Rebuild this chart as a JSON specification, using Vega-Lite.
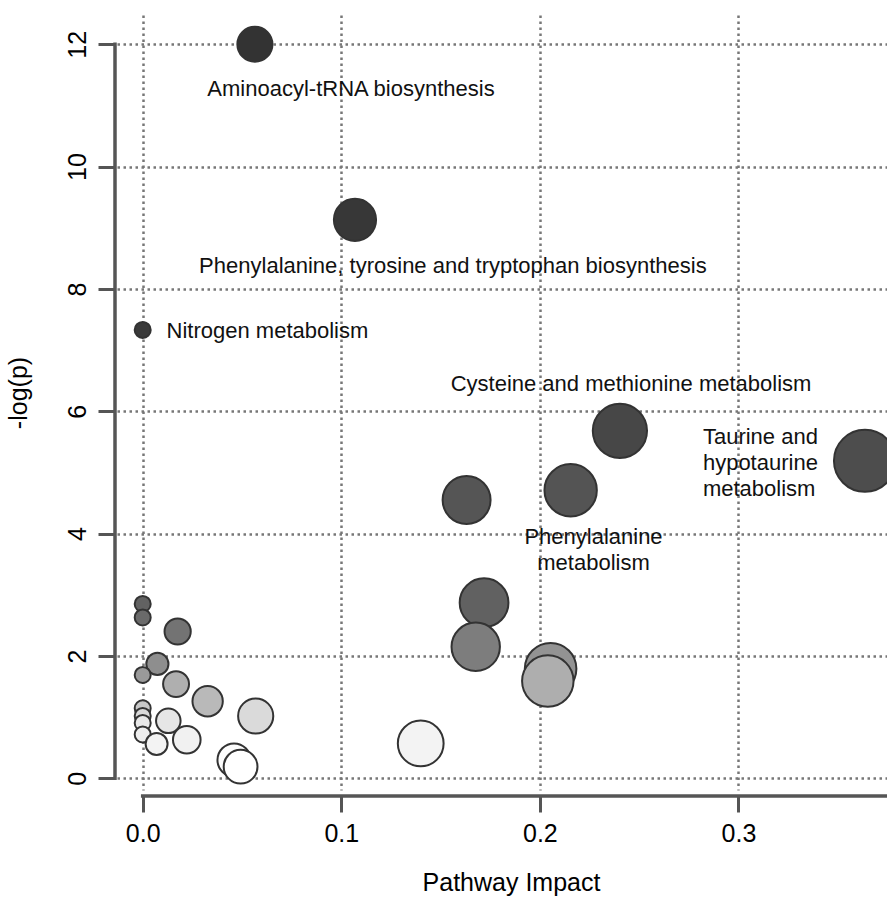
{
  "$schema": "https://vega.github.io/schema/vega-lite/v6.json",
  "width": 770,
  "height": 775,
  "autosize": {"type": "none"},
  "padding": {"left": 117, "top": 15, "right": 0, "bottom": 115},
  "background": "white",
  "config": {
    "view": {"stroke": null},
    "font": "Liberation Sans",
    "axis": {
      "domain": false,
      "tickColor": "#555555",
      "tickWidth": 3,
      "labelFont": "Liberation Sans",
      "labelFontSize": 25,
      "labelColor": "#000000",
      "labelFlush": false,
      "labelOverlap": false,
      "titleFont": "Liberation Sans",
      "titleFontSize": 25,
      "titleFontWeight": "normal",
      "titleColor": "#000000",
      "grid": true,
      "gridColor": "#777777",
      "gridDash": [2.5, 3.5],
      "gridWidth": 2.5
    }
  },
  "layer": [
    {
      "data": {
        "values": [
          {"pathway": "Aminoacyl-tRNA biosynthesis", "impact": 0.0565, "logp": 12.0},
          {"pathway": "Phenylalanine, tyrosine and tryptophan biosynthesis", "impact": 0.1069, "logp": 9.13},
          {"pathway": "Nitrogen metabolism", "impact": 0.0, "logp": 7.33},
          {"pathway": "Cysteine and methionine metabolism", "impact": 0.2403, "logp": 5.68},
          {"pathway": "Taurine and hypotaurine metabolism", "impact": 0.3637, "logp": 5.19},
          {"pathway": "Phenylalanine metabolism", "impact": 0.2155, "logp": 4.71},
          {"pathway": "", "impact": 0.1631, "logp": 4.55},
          {"pathway": "", "impact": 0.1719, "logp": 2.87},
          {"pathway": "", "impact": 0.0, "logp": 2.85},
          {"pathway": "", "impact": 0.0, "logp": 2.63},
          {"pathway": "", "impact": 0.0176, "logp": 2.40},
          {"pathway": "", "impact": 0.1677, "logp": 2.15},
          {"pathway": "", "impact": 0.0074, "logp": 1.87},
          {"pathway": "", "impact": 0.2054, "logp": 1.79},
          {"pathway": "", "impact": 0.0, "logp": 1.69},
          {"pathway": "", "impact": 0.204, "logp": 1.59},
          {"pathway": "", "impact": 0.0168, "logp": 1.54},
          {"pathway": "", "impact": 0.0327, "logp": 1.26},
          {"pathway": "", "impact": 0.0, "logp": 1.145},
          {"pathway": "", "impact": 0.0, "logp": 1.02},
          {"pathway": "", "impact": 0.0569, "logp": 1.018},
          {"pathway": "", "impact": 0.0129, "logp": 0.94},
          {"pathway": "", "impact": 0.0, "logp": 0.905},
          {"pathway": "", "impact": 0.0, "logp": 0.717},
          {"pathway": "", "impact": 0.0222, "logp": 0.63},
          {"pathway": "", "impact": 0.14, "logp": 0.57},
          {"pathway": "", "impact": 0.007, "logp": 0.56},
          {"pathway": "", "impact": 0.046, "logp": 0.30},
          {"pathway": "", "impact": 0.0493, "logp": 0.19}
        ]
      },
      "mark": {"type": "circle", "stroke": "#333333", "strokeWidth": 2, "opacity": 1},
      "encoding": {
        "x": {
          "field": "impact",
          "type": "quantitative",
          "scale": {"domain": [-0.01294, 0.3748], "nice": false, "zero": false},
          "axis": {
            "title": "Pathway Impact",
            "values": [0, 0.1, 0.2, 0.3],
            "format": ".1f",
            "offset": 6,
            "tickSize": 16,
            "labelPadding": 9.5,
            "titleX": 394,
            "titleY": 94,
            "titleAlign": "center",
            "titleBaseline": "alphabetic"
          }
        },
        "y": {
          "field": "logp",
          "type": "quantitative",
          "scale": {"domain": [-0.191, 12.478], "nice": false, "zero": false},
          "axis": {
            "title": "-log(p)",
            "values": [0, 2, 4, 6, 8, 10, 12],
            "format": "d",
            "offset": 2,
            "tickSize": 17,
            "labelAngle": -90,
            "labelAlign": "center",
            "labelBaseline": "bottom",
            "labelPadding": 8,
            "titleX": -88.5,
            "titleY": 377.5,
            "titleAngle": -90,
            "titleAlign": "center",
            "titleBaseline": "alphabetic"
          }
        },
        "size": {
          "field": "impact",
          "type": "quantitative",
          "scale": {"type": "pow", "exponent": 0.7, "domain": [0, 0.3637], "range": [256, 3844]},
          "legend": null
        },
        "color": {
          "field": "logp",
          "type": "quantitative",
          "scale": {
            "domain": [0.2, 0.6, 0.95, 1.05, 1.3, 1.6, 1.7, 2.2, 2.9, 4.6, 5.7, 7.3, 12],
            "range": ["#ffffff", "#f2f2f2", "#e6e6e6", "#d4d4d4", "#b4b4b4", "#aeaeae", "#989898", "#7a7a7a", "#606060", "#555555", "#474747", "#3a3a3a", "#333333"],
            "interpolate": "rgb"
          },
          "legend": null
        }
      }
    },
    {
      "data": {"values": [{"axis": "y"}]},
      "mark": {"type": "rule", "stroke": "#555555", "strokeWidth": 3.5, "strokeCap": "square"},
      "encoding": {
        "x": {"datum": -0.013948, "type": "quantitative"},
        "y": {"datum": 0, "type": "quantitative"},
        "y2": {"datum": 12}
      }
    },
    {
      "data": {"values": [{"axis": "x"}]},
      "mark": {"type": "rule", "stroke": "#555555", "strokeWidth": 3.5, "strokeCap": "square"},
      "encoding": {
        "x": {"datum": 0, "type": "quantitative"},
        "x2": {"datum": 0.3748},
        "y": {"datum": -0.2894, "type": "quantitative"}
      }
    },
    {
      "data": {
        "values": [
          {"label": "Aminoacyl-tRNA biosynthesis", "impact": 0.1049, "logp": 11.264},
          {"label": "Phenylalanine, tyrosine and tryptophan biosynthesis", "impact": 0.1562, "logp": 8.378},
          {"label": "Cysteine and methionine metabolism", "impact": 0.2459, "logp": 6.449},
          {"label": "Phenylalanine\nmetabolism", "impact": 0.227, "logp": 3.95}
        ]
      },
      "mark": {"type": "text", "align": "center", "baseline": "middle", "fontSize": 22, "font": "Liberation Sans", "color": "#111111", "lineBreak": "\n", "lineHeight": 26},
      "encoding": {
        "x": {"field": "impact", "type": "quantitative"},
        "y": {"field": "logp", "type": "quantitative"},
        "text": {"field": "label"}
      }
    },
    {
      "data": {
        "values": [
          {"label": "Nitrogen metabolism", "impact": 0.01203, "logp": 7.312},
          {"label": "Taurine and\nhypotaurine\nmetabolism", "impact": 0.2821, "logp": 5.573}
        ]
      },
      "mark": {"type": "text", "align": "left", "baseline": "middle", "fontSize": 22, "font": "Liberation Sans", "color": "#111111", "lineBreak": "\n", "lineHeight": 26},
      "encoding": {
        "x": {"field": "impact", "type": "quantitative"},
        "y": {"field": "logp", "type": "quantitative"},
        "text": {"field": "label"}
      }
    }
  ]
}
